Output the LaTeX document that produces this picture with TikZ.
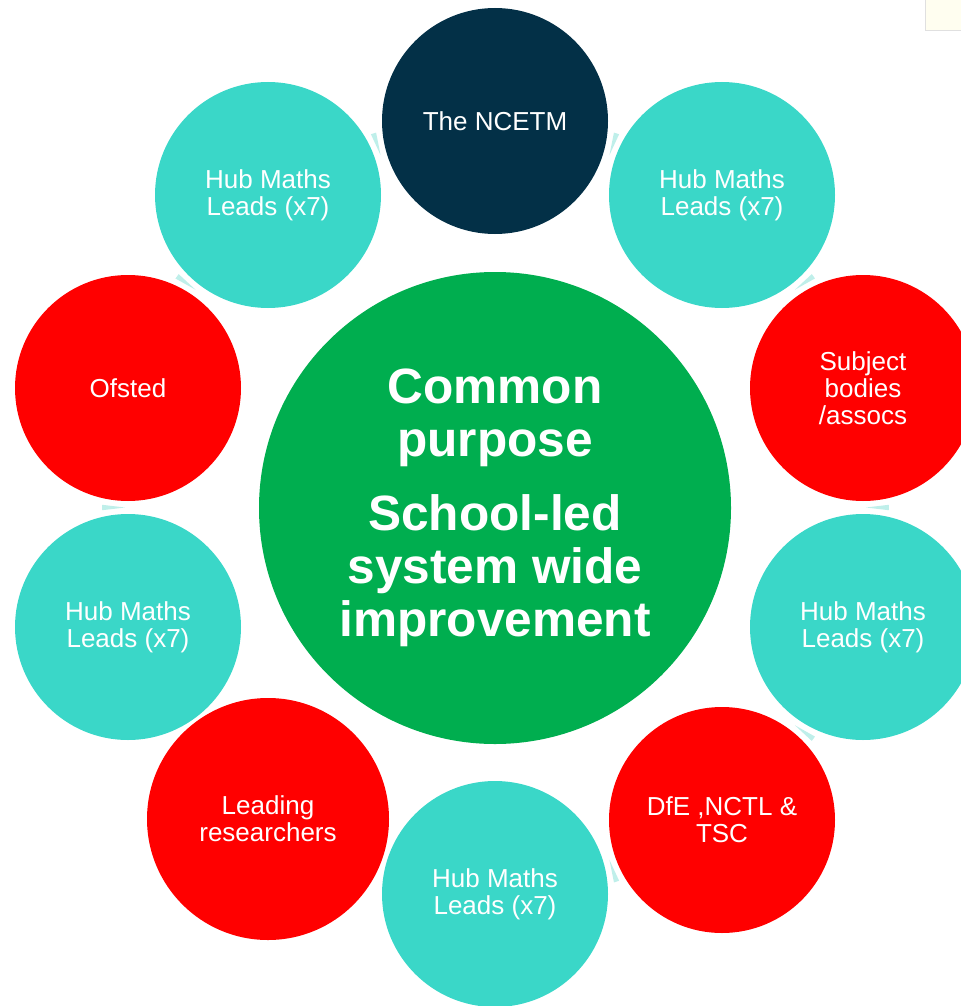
\documentclass[tikz,border=0pt]{standalone}
\usepackage{fontspec}
\setmainfont{Liberation Sans}
\usetikzlibrary{calc,backgrounds}

\definecolor{hubteal}{HTML}{3AD7C8}
\definecolor{ncetmblue}{HTML}{033047}
\definecolor{purposegreen}{HTML}{00AE4F}
\definecolor{gapteal}{HTML}{BFEFEA}

\tikzstyle{ring} = [ circle,minimum size=113pt,inner sep=0pt,text=white,
                     align=center,font=\fontsize{13}{13.5}\selectfont]
\tikzstyle{hub} = [ring,fill=hubteal]
\tikzstyle{partner} = [ring,fill=red]
\tikzstyle{core} = [ circle,fill=purposegreen,minimum size=236pt,inner sep=0pt,
                     text=white,align=center,
                     font=\fontsize{24.8}{26.5}\selectfont\bfseries]
\tikzstyle{gaparrow} = [fill=gapteal]

\begin{document}
\begin{tikzpicture}[x=0.5pt,y=-0.5pt]
  \useasboundingbox (0,0) rectangle (960,1006);
  \draw[draw=black!12,fill=yellow!6] (925,-10) rectangle (975,30);

  \node[core] at (495,508) (purpose) {Common\\purpose\\[10.5pt]School-led\\system wide\\improvement};
  \node[ring,fill=ncetmblue] at (495,121) (ncetm) {The NCETM};
  \node[hub] at (722,195) (hubA) {Hub Maths\\Leads (x7)};
  \node[partner] at (863,388) (bodies) {Subject\\bodies\\/assocs};
  \node[hub] at (863,627) (hubB) {Hub Maths\\Leads (x7)};
  \node[partner] at (722,820) (dfe) {DfE ,NCTL \&\\TSC};
  \node[hub] at (495,894) (hubC) {Hub Maths\\Leads (x7)};
  \node[partner,minimum size=121pt] at (268,819) (research) {Leading\\researchers};
  \node[hub] at (128,627) (hubD) {Hub Maths\\Leads (x7)};
  \node[partner] at (128,388) (ofsted) {Ofsted};
  \node[hub] at (268,195) (hubE) {Hub Maths\\Leads (x7)};

  \begin{scope}[on background layer]
    \foreach \a/\b in {ncetm/hubA,hubA/bodies,bodies/hubB,hubB/dfe,dfe/hubC,
                       hubD/ofsted,ofsted/hubE,hubE/ncetm} {
      \coordinate (gap) at ($(\a)!0.5!(\b)$);
      \fill[gaparrow] ($(gap)!1.5pt!90:(\b)$) -- ($(gap)!13pt!84:(\b)$)
                      -- ($(gap)!13pt!96:(\b)$) -- cycle;
    }
  \end{scope}
\end{tikzpicture}
\end{document}
